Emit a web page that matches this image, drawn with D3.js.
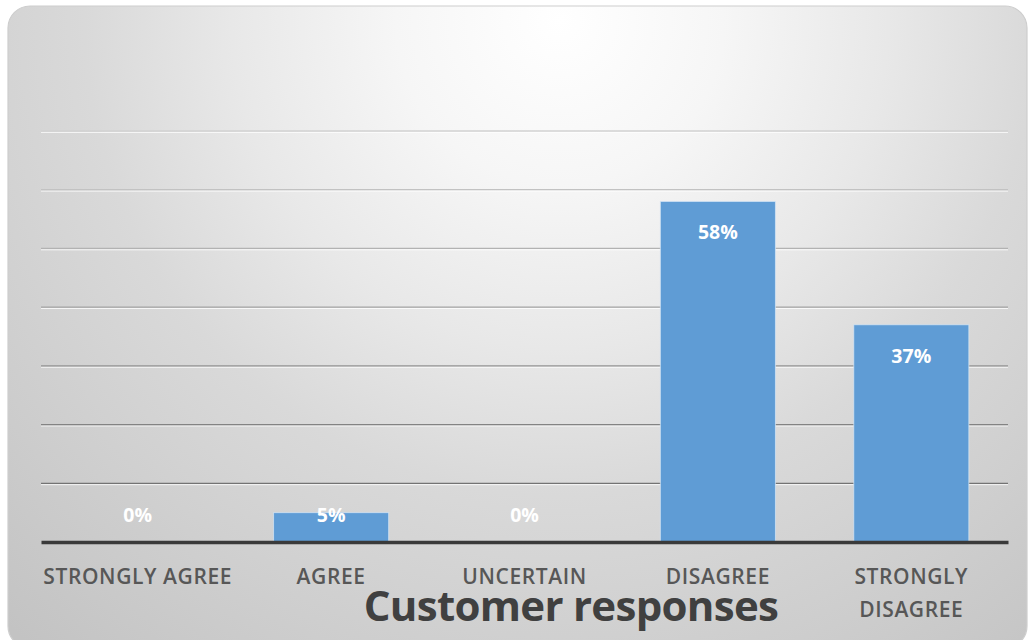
<!DOCTYPE html>
<html>
<head>
<meta charset="utf-8">
<script src="https://cdn.jsdelivr.net/npm/d3@7"></script>
<style>
  html, body { margin: 0; padding: 0; background: #ffffff; }
  svg { display: block; }
</style>
</head>
<body>
<svg id="chart" width="1028" height="640"></svg>
<script>
// Survey result: share of customers per response option (percent)
const categories = ["STRONGLY AGREE", "AGREE", "UNCERTAIN", "DISAGREE", "STRONGLY DISAGREE"];
const values = [0, 5, 0, 58, 37];
const gridTicks = [10, 20, 30, 40, 50, 60, 70];
const axisTitle = "Customer responses";

const svg = d3.select("#chart");

// Card background: soft radial highlight near the top centre
const defs = svg.append("defs");
const bg = defs.append("radialGradient")
  .attr("id", "cardGrad")
  .attr("gradientUnits", "userSpaceOnUse")
  .attr("cx", 560).attr("cy", 20).attr("r", 820);
[[0, "#ffffff"], [0.2, "#f6f6f6"], [0.4, "#e8e8e8"], [0.58, "#d9d9d9"], [1, "#c3c3c3"]]
  .forEach(([o, c]) => bg.append("stop").attr("offset", o).attr("stop-color", c));

svg.append("rect")
  .attr("x", 8).attr("y", 6)
  .attr("width", 1019).attr("height", 642)
  .attr("rx", 22).attr("ry", 22)
  .attr("fill", "url(#cardGrad)")
  .attr("stroke", "#cdcdcd")
  .attr("stroke-width", 1.2);

// Scales
const x = d3.scaleBand()
  .domain(categories)
  .range([41, 1008])
  .paddingInner(0.405)
  .paddingOuter(0.2025);

const y = d3.scaleLinear()
  .domain([0, 70])
  .range([542, 131]);

// Horizontal gridlines (embossed: grey line with a light line beneath)
const gridShade = d3.scaleLinear()
  .domain([70, 10])
  .range(["#d2d2d2", "#737373"]);

const grid = svg.append("g").attr("class", "grid");
grid.selectAll("line.hl")
  .data(gridTicks)
  .join("line")
  .attr("class", "hl")
  .attr("x1", 41).attr("x2", 1008)
  .attr("y1", d => y(d) + 1.4).attr("y2", d => y(d) + 1.4)
  .attr("stroke", "#ffffff")
  .attr("stroke-opacity", 0.8)
  .attr("stroke-width", 1);
grid.selectAll("line.gl")
  .data(gridTicks)
  .join("line")
  .attr("class", "gl")
  .attr("x1", 41).attr("x2", 1008)
  .attr("y1", d => y(d)).attr("y2", d => y(d))
  .attr("stroke", d => gridShade(d))
  .attr("stroke-width", 1.3);

// Bars
svg.append("g").attr("class", "bars")
  .selectAll("rect")
  .data(categories.map((c, i) => ({ c, v: values[i] })))
  .join("rect")
  .attr("x", d => x(d.c))
  .attr("y", d => y(d.v))
  .attr("width", x.bandwidth())
  .attr("height", d => y(0) - y(d.v))
  .attr("fill", "#5f9cd5")
  .attr("stroke", "#d8e8f7")
  .attr("stroke-opacity", d => d.v > 0 ? 0.7 : 0)
  .attr("stroke-width", 1);

// Category axis line
const xAxis = d3.axisBottom(x).tickSize(0).tickFormat("");
const axisG = svg.append("g")
  .attr("transform", `translate(0,${y(0)})`)
  .call(xAxis);
axisG.select(".domain")
  .attr("stroke", "#3a3a3a")
  .attr("stroke-width", 3.5);

// Category labels (two-line wrap for the last option)
const labelG = svg.append("g").attr("class", "cat-labels");
categories.forEach(c => {
  const lines = c === "STRONGLY DISAGREE" ? ["STRONGLY", "DISAGREE"] : [c];
  const cx = x(c) + x.bandwidth() / 2;
  const t = labelG.append("text")
    .attr("x", cx)
    .attr("y", 584)
    .attr("text-anchor", "middle")
    .attr("font-family", "'Open Sans', sans-serif")
    .attr("font-weight", 600)
    .attr("font-size", 21)
    .attr("letter-spacing", 0.6)
    .attr("fill", "#575757");
  lines.forEach((ln, i) => {
    t.append("tspan")
      .attr("x", cx)
      .attr("dy", i === 0 ? 0 : 33)
      .text(ln);
  });
});

// Value labels inside the top of each bar
svg.append("g").attr("class", "values")
  .selectAll("text")
  .data(categories.map((c, i) => ({ c, v: values[i] })))
  .join("text")
  .attr("x", d => x(d.c) + x.bandwidth() / 2)
  .attr("y", d => Math.min(y(d.v) + 38, y(0) - 20))
  .attr("text-anchor", "middle")
  .attr("font-family", "'Open Sans', sans-serif")
  .attr("font-weight", 700)
  .attr("font-size", 19.5)
  .attr("fill", "#ffffff")
  .text(d => d.v + "%");

// Axis title
svg.append("text")
  .attr("x", 571)
  .attr("y", 621)
  .attr("text-anchor", "middle")
  .attr("font-family", "'Open Sans', sans-serif")
  .attr("font-weight", 700)
  .attr("font-size", 42)
  .attr("letter-spacing", -0.7)
  .attr("fill", "#404040")
  .text(axisTitle);
</script>
</body>
</html>
